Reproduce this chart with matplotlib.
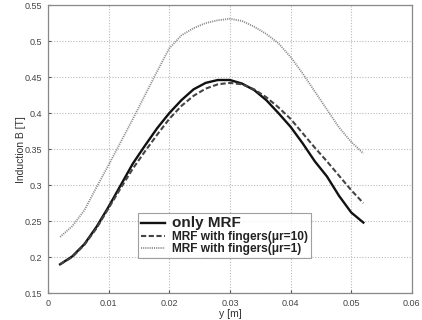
import matplotlib
matplotlib.use("Agg")
import matplotlib.pyplot as plt

y_pos = [0.002, 0.004, 0.006, 0.008, 0.010, 0.012, 0.014, 0.016, 0.018, 0.020,
         0.022, 0.024, 0.026, 0.028, 0.030, 0.032, 0.034, 0.036, 0.038, 0.040,
         0.042, 0.044, 0.046, 0.048, 0.050, 0.052]
only_mrf = [0.190, 0.201, 0.218, 0.242, 0.270, 0.300, 0.330, 0.355, 0.379, 0.400,
            0.418, 0.433, 0.442, 0.446, 0.446, 0.441, 0.432, 0.418, 0.400, 0.381,
            0.358, 0.333, 0.312, 0.285, 0.262, 0.248]
fingers_mu10 = [0.190, 0.200, 0.217, 0.240, 0.268, 0.296, 0.323, 0.347, 0.370, 0.392,
                0.410, 0.424, 0.434, 0.440, 0.442, 0.440, 0.433, 0.422, 0.408, 0.392,
                0.372, 0.352, 0.333, 0.313, 0.293, 0.275]
fingers_mu1 = [0.228, 0.243, 0.265, 0.297, 0.328, 0.360, 0.392, 0.425, 0.458, 0.490,
               0.508, 0.518, 0.525, 0.529, 0.531, 0.528, 0.520, 0.510, 0.497, 0.478,
               0.455, 0.430, 0.405, 0.380, 0.360, 0.344]
labels = ["only MRF", "MRF with fingers(μr=10)", "MRF with fingers(μr=1)"]
x_ticks = [0, 0.01, 0.02, 0.03, 0.04, 0.05, 0.06]
x_tick_labels = ["0", "0.01", "0.02", "0.03", "0.04", "0.05", "0.06"]
y_ticks = [0.15, 0.2, 0.25, 0.3, 0.35, 0.4, 0.45, 0.5, 0.55]
y_tick_labels = ["0.15", "0.2", "0.25", "0.3", "0.35", "0.4", "0.45", "0.5", "0.55"]

plt.rcParams['font.family'] = ['Liberation Sans', 'DejaVu Sans']
fig = plt.figure(figsize=(4.22, 3.2), dpi=100)
ax = fig.add_axes([0.1137, 0.084, 0.8623, 0.9])

ax.plot(y_pos, only_mrf, color='#111111', lw=1.7, ls='-', label=labels[0])
ax.plot(y_pos, fingers_mu10, color='#444444', lw=1.5, ls=(0, (2.5, 1.2)), label=labels[1])
ax.plot(y_pos, fingers_mu1, color='#888888', lw=1.3, ls=(0, (0.6, 0.6)), label=labels[2])

ax.set_xlim(0, 0.06)
ax.set_ylim(0.15, 0.55)
ax.set_xticks(x_ticks)
ax.set_xticklabels(x_tick_labels)
ax.set_yticks(y_ticks)
ax.set_yticklabels(y_tick_labels)
ax.tick_params(direction='in', length=2, labelsize=6.5, colors='#555555', labelcolor='#444444', pad=4)
ax.grid(True, ls=(0, (1, 1.5)), color='#bbbbbb', lw=0.8)
for s in ax.spines.values():
    s.set_color('#888888')
    s.set_linewidth(0.9)
ax.set_xlabel('y [m]', fontsize=7.5, color='#333333', labelpad=1)
ax.set_ylabel('Induction B [T]', fontsize=7.5, color='#333333', labelpad=-1)

leg = ax.legend(loc='lower left', bbox_to_anchor=(0.247, 0.121),
                prop={'weight': 'bold', 'size': 8.6}, frameon=True, fancybox=False,
                edgecolor='#888888', borderpad=0.25, labelspacing=0.05,
                handlelength=2.0, handletextpad=0.6, borderaxespad=0)
leg.get_frame().set_linewidth(0.8)
for t in leg.get_texts():
    t.set_color('#222222')
leg.get_texts()[0].set_fontsize(11)

fig.savefig('out.png', dpi=100)
